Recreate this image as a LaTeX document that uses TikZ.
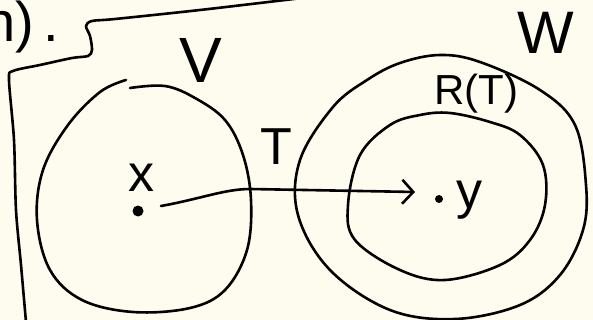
\documentclass[tikz,border=0pt]{standalone}
\usepackage{fontspec}
\setmainfont{Liberation Sans}
\usetikzlibrary{arrows.meta}
\definecolor{paper}{RGB}{254,252,239}
\tikzset{
  pen/.style={line width=2.6pt, line cap=round, line join=round},
  arr/.style={pen, -{Straight Barb[length=11pt, width=24pt]}},
  lbl/.style={inner sep=0pt, font=\fontsize{52}{52}\selectfont},
  dot/.style={circle, fill, inner sep=0pt, minimum size=#1},
  dot/.default=10pt
}
\begin{document}
\begin{tikzpicture}[x=1pt, y=-1pt]
  \fill[paper] (0,0) rectangle (593,320);
  \useasboundingbox (0,0) rectangle (593,320);

  \node[lbl, anchor=base west, font=\fontsize{56}{56}\selectfont] (prev) at (-16,42) {n)\hspace{10pt}.};
  \draw[pen] plot[smooth, tension=0.5] coordinates {(302,-2) (200,10) (115,19) (92,21) (86,26) (90,36) (92,50) (88,56) (72,58) (40,65) (13,71) (9,80) (14,140) (16,210) (21,265) (26,322)};

  \draw[pen] plot[smooth, tension=0.6] coordinates {(130,88) (165,86) (195,98) (225,120) (243,155) (251,200) (247,250) (225,290) (190,308) (133,312) (82,300) (50,270) (37,220) (43,170) (68,125) (100,92) (126,80)};
  \draw[pen] plot[smooth cycle, tension=0.6] coordinates {(440,55) (480,62) (540,90) (575,125) (586,185) (583,230) (560,275) (520,305) (455,319) (390,310) (330,270) (298,215) (300,160) (333,107) (367,80) (400,63)};
  \draw[pen] plot[smooth cycle, tension=0.6] coordinates {(450,113) (490,122) (520,135) (543,165) (545,205) (530,240) (500,265) (445,280) (400,270) (355,240) (348,205) (360,155) (390,125) (420,115)};

  \node[lbl, font=\fontsize{64}{64}\selectfont] (vlbl) at (201,60) {V};
  \node[lbl, font=\fontsize{60}{60}\selectfont] (wlbl) at (546,33) {W};
  \node[lbl, font=\fontsize{42}{42}\selectfont] (rlbl) at (476,94) {R(T)};
  \node[lbl] (tlbl) at (276,147) {T};
  \node[lbl] (xlbl) at (141,178) {x};
  \node[lbl] (ylbl) at (469,200) {y};

  \node[dot=11pt] (xdot) at (138,211) {};
  \node[dot=8pt] (ydot) at (439,199) {};
  \coordinate (tail) at (161,206);
  \coordinate (head) at (415,192);
  \draw[arr] (tail) .. controls (200,199) and (225,189) .. (250,189) -- (head);
\end{tikzpicture}
\end{document}
